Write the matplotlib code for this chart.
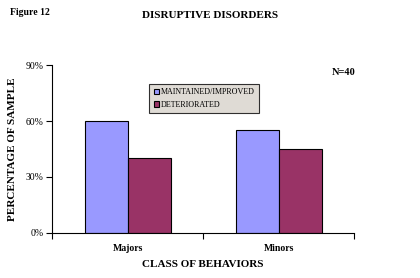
import matplotlib.pyplot as plt
import numpy as np

plt.rcParams['font.family'] = ['Liberation Serif', 'DejaVu Serif']

categories = ['Majors', 'Minors']
maintained = [0.60, 0.55]
deteriorated = [0.40, 0.45]
labels = ['MAINTAINED/IMPROVED', 'DETERIORATED']
yticks = [0, 0.3, 0.6, 0.9]
ytick_labels = ['0%', '30%', '60%', '90%']

fig = plt.figure(figsize=(4.2, 2.78), dpi=100)
ax = fig.add_axes([0.124, 0.162, 0.719, 0.604])

x = np.arange(len(categories))
w = 0.285
ax.bar(x - w/2, maintained, w, color='#9999ff', edgecolor='black', linewidth=0.8, label=labels[0])
ax.bar(x + w/2, deteriorated, w, color='#993366', edgecolor='black', linewidth=0.8, label=labels[1])

ax.set_xlim(-0.5, 1.5)
ax.set_ylim(0, 0.9)
ax.set_yticks(yticks)
ax.set_yticklabels(ytick_labels, fontsize=7)
ax.set_xticks([-0.5, 0.5, 1.5])
ax.set_xticklabels([])
ax.set_xticks(x, minor=True)
ax.set_xticklabels(categories, minor=True, fontsize=7, fontweight='bold')
ax.tick_params(axis='x', which='minor', length=0, pad=8)
ax.tick_params(axis='x', which='major', length=4, direction='out')
ax.tick_params(axis='y', length=4, direction='out', pad=2)
ax.spines['top'].set_visible(False)
ax.spines['right'].set_visible(False)

ax.set_xlabel('CLASS OF BEHAVIORS', fontsize=8, fontweight='bold', labelpad=5)
ax.set_ylabel('PERCENTAGE OF SAMPLE', fontsize=8, fontweight='bold', labelpad=6)

leg = ax.legend(loc='upper left', bbox_to_anchor=(0.322, 0.89), fontsize=5.8,
                frameon=True, fancybox=False, handlelength=0.6, handleheight=0.6,
                handletextpad=0.3, borderpad=0.55, labelspacing=0.6,
                borderaxespad=0)
leg.get_frame().set_facecolor('#d8d2cb')
leg.get_frame().set_edgecolor('black')
leg.get_frame().set_linewidth(0.8)

fig.text(0.5, 0.935, 'DISRUPTIVE DISORDERS', ha='center', fontsize=8, fontweight='bold')
fig.text(0.025, 0.945, 'Figure 12', ha='left', fontsize=7, fontweight='bold')
fig.text(0.79, 0.73, 'N=40', ha='left', fontsize=7.5, fontweight='bold')

plt.savefig('out.png', dpi=100)
